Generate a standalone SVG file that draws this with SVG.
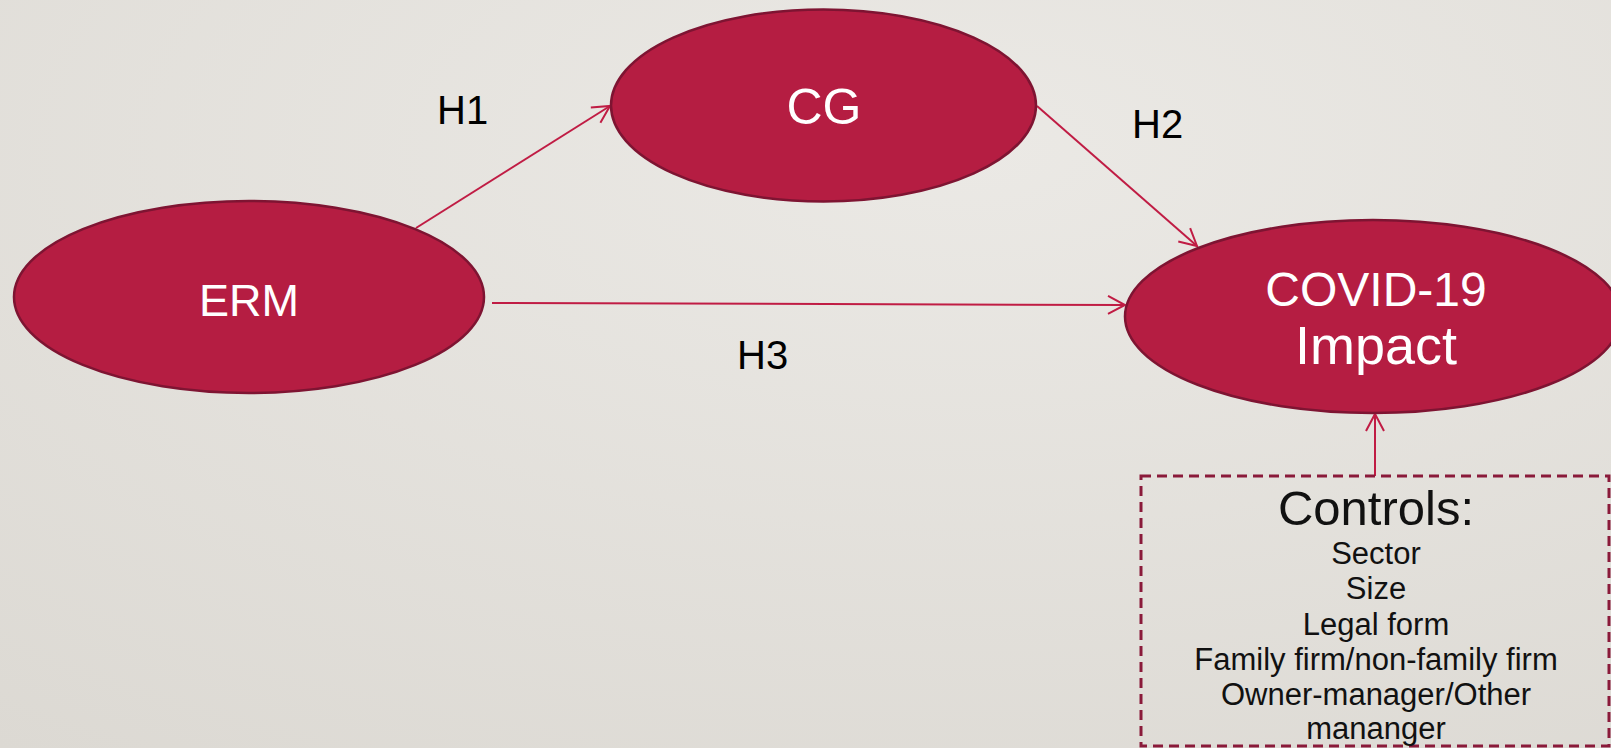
<svg xmlns="http://www.w3.org/2000/svg" width="1611" height="748" viewBox="0 0 1611 748">
<defs>
<radialGradient id="bg" cx="0.6" cy="0.2" r="1.0">
<stop offset="0" stop-color="#ebe9e5"/>
<stop offset="1" stop-color="#dcd9d3"/>
</radialGradient>
<marker id="arr" markerUnits="userSpaceOnUse" markerWidth="22" markerHeight="22" refX="18" refY="10" orient="auto" overflow="visible">
<path d="M1,1 L18,10 L1,19" fill="none" stroke="#c01c44" stroke-width="2"/>
</marker>
<style>
.node{fill:#b51d42;stroke:#7e1432;stroke-width:2.5}
.nt{font-family:"Liberation Sans",Arial,sans-serif;fill:#ffffff;text-anchor:middle}
.lbl{font-family:"Liberation Sans",Arial,sans-serif;fill:#000000;font-size:40px}
.conn{stroke:#c01c44;stroke-width:2;fill:none;marker-end:url(#arr)}
.ct{font-family:"Liberation Sans",Arial,sans-serif;fill:#111111;text-anchor:middle;font-size:31px}
.ch{font-size:49px}
</style>
</defs>
<rect x="0" y="0" width="1611" height="748" fill="url(#bg)"/>
<g id="connectors">
<line class="conn" x1="416" y1="228" x2="610" y2="106"/>
<line class="conn" x1="1037" y1="106" x2="1197" y2="246"/>
<line class="conn" x1="492" y1="303" x2="1125" y2="305"/>
<line class="conn" x1="1375" y1="476" x2="1375" y2="414"/>
</g>
<g id="labels">
<text class="lbl" x="437" y="124">H1</text>
<text class="lbl" x="1132" y="138">H2</text>
<text class="lbl" x="737" y="369">H3</text>
</g>
<g id="node-erm">
<ellipse class="node" cx="249" cy="297" rx="235" ry="96"/>
<text class="nt" x="249" y="316" font-size="45">ERM</text>
</g>
<g id="node-cg">
<ellipse class="node" cx="823.5" cy="105.5" rx="212.5" ry="96"/>
<text class="nt" x="824" y="124" font-size="50">CG</text>
</g>
<g id="node-covid">
<ellipse class="node" cx="1373" cy="316.5" rx="248" ry="96.5"/>
<text class="nt" x="1376" y="306" font-size="48">COVID-19</text>
<text class="nt" x="1376" y="364" font-size="54">Impact</text>
</g>
<g id="node-controls">
<rect x="1141" y="476" width="468" height="270" fill="none" stroke="#8a1a3a" stroke-width="3" stroke-dasharray="10,6"/>
<text class="ct ch" x="1376" y="525">Controls:</text>
<text class="ct" x="1376" y="564">Sector</text>
<text class="ct" x="1376" y="599">Size</text>
<text class="ct" x="1376" y="635">Legal form</text>
<text class="ct" x="1376" y="670">Family firm/non-family firm</text>
<text class="ct" x="1376" y="705">Owner-manager/Other</text>
<text class="ct" x="1376" y="739">mananger</text>
</g>
</svg>
